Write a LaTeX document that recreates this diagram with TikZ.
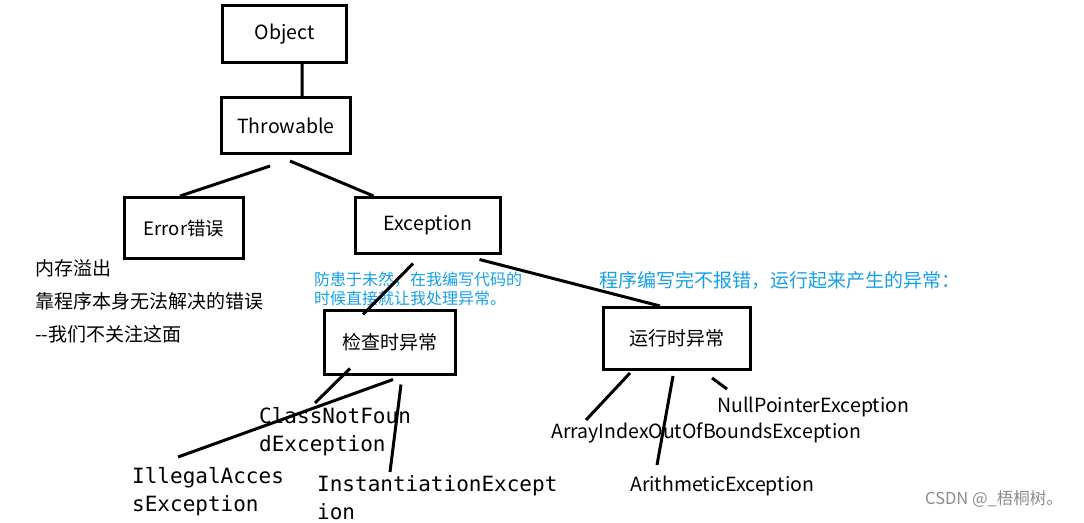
\documentclass[tikz,border=0pt]{standalone}
\usepackage{fontspec}
\setmainfont{Noto Sans CJK SC}
\setmonofont{DejaVu Sans Mono}
\usetikzlibrary{positioning}
\definecolor{noteblue}{RGB}{20,160,230}

\begin{document}
\begin{tikzpicture} [
	x=1pt, y=-1pt, % one unit is one pixel of the sketch, y runs downwards
	every node/.style={inner sep=0pt, font=\fontsize{19.5}{22}\selectfont},
	box/.style={draw, line width=3pt}, % the class boxes
	cjk/.style={font=\fontsize{19}{22}\selectfont},
	link/.style={line width=3pt}, % the strokes between them
	note/.style={anchor=west, text=noteblue, font=\fontsize{16}{18}\selectfont},
	remark/.style={anchor=west, font=\fontsize{19}{22}\selectfont},
	code/.style={anchor=base west, align=left, font=\ttfamily\fontsize{21}{27.5}\selectfont},
	leaf/.style={anchor=base west, font=\fontsize{19.5}{22}\selectfont},
	]
	\useasboundingbox (0,0) rectangle (1084,522);

	% class boxes
	\node[box, minimum width=124, minimum height=57] (obj) at (284.5,34) {Object};
	\node[box, minimum width=129, minimum height=56] (thr) at (286,125.5) {Throwable};
	\node[box, cjk, minimum width=119, minimum height=61, font=\fontsize{18.5}{22}\selectfont] (err) at (184,228) {Error错误};
	\node[box, minimum width=145, minimum height=56] (exc) at (428,225.5) {Exception};
	\node[box, cjk, minimum width=131, minimum height=64] (chk) at (390,342.5) {检查时异常};
	\node[box, cjk, minimum width=147, minimum height=62] (run) at (677,338.5) {运行时异常};

	% notes
	\node[remark] (oom) at (35,268.5) {内存溢出};
	\node[remark] (self) at (35,301.5) {靠程序本身无法解决的错误};
	\node[remark] (skip) at (35,334) {-{}-我们不关注这面};
	\node[note] (chknote) at (314,279.5) {防患于未然，在我编写代码的};
	\node[note] (chknote2) at (314,298) {时候直接就让我处理异常。};
	\node[note, font=\fontsize{19}{22}\selectfont] (runnote) at (599,280) {程序编写完不报错，运行起来产生的异常：};

	% checked exceptions (anchored at the baseline of their last line)
	\node[code] (cnf) at (259,451) {ClassNotFoun\\dException};
	\node[code] (iae) at (132,511) {IllegalAcces\\sException};
	\node[code] (ine) at (317,519) {InstantiationExcept\\ion};

	% runtime exceptions
	\node[leaf] (npe) at (717,412) {NullPointerException};
	\node[leaf] (aio) at (551,438) {ArrayIndexOutOfBoundsException};
	\node[leaf] (ari) at (630,491) {ArithmeticException};

	\node[anchor=west, text=black!45, font=\fontsize{16.5}{18}\selectfont] (mark) at (925,499) {CSDN @\_梧桐树。};

	\draw[link]
		([xshift=17.5pt]obj.south) -- ([xshift=16pt]thr.north)
		([xshift=-16pt, yshift=-11pt]thr.south) -- ([xshift=-4pt]err.north)
		([xshift=4pt, yshift=-6pt]thr.south) -- ([xshift=19.5pt]exc.north west)
		([xshift=-15pt, yshift=-8.5pt]exc.south) -- ([xshift=-27pt, yshift=-5.5pt]chk.north)
		([xshift=-22.5pt, yshift=-4.5pt]exc.south east) -- ([xshift=-17pt]run.north)

		([xshift=-40pt, yshift=7.5pt]chk.south) -- ([xshift=56pt, yshift=48pt]cnf.base west)
		([xshift=3pt, yshift=-3.5pt]chk.south) -- ([xshift=46pt, yshift=54pt]iae.base west)
		([xshift=11pt, yshift=-8.5pt]chk.south) -- ([xshift=73pt, yshift=47pt]ine.base west)

		([xshift=-47pt, yshift=-2pt]run.south) -- ([xshift=35pt, yshift=18pt]aio.base west)
		([xshift=-4pt, yshift=-5pt]run.south) -- ([xshift=27pt, yshift=26pt]ari.base west)
		([xshift=35pt, yshift=-7pt]run.south) -- ([xshift=10pt, yshift=23pt]npe.base west)
	;
\end{tikzpicture}
\end{document}
